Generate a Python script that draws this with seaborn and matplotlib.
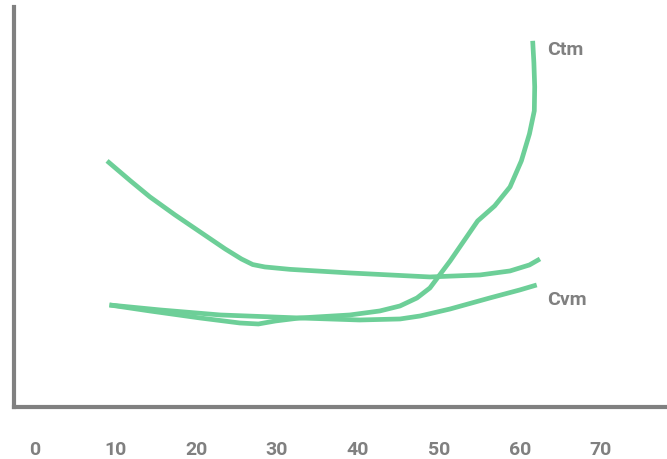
import numpy as np
import pandas as pd
import matplotlib
matplotlib.use("Agg")
import matplotlib.pyplot as plt
import seaborn as sns

sns.set_theme(style="white")
plt.rcParams["font.family"] = ["Roboto", "DejaVu Sans"]

GREEN = "#6dcf98"
GREY = "#808080"

# upper curve (no label)
upper_x = [9.0, 11.9, 14.3, 17.4, 20.5, 23.6, 25.6, 27.0, 28.5, 31.6, 39.0, 48.9, 55.1, 58.8, 61.2, 62.5]
upper_y = [61.5, 56.5, 52.5, 48.0, 43.75, 39.5, 37.0, 35.6, 35.0, 34.4, 33.5, 32.5, 33.0, 34.0, 35.5, 37.0]

# Ctm
ctm_x = [9.3, 14.3, 20.5, 25.4, 27.7, 29.8, 32.8, 39.0, 42.7, 45.2, 47.3, 48.9, 51.4, 54.8,
         56.9, 58.8, 60.2, 61.2, 61.8, 61.85, 61.75, 61.6]
ctm_y = [25.5, 24.0, 22.25, 21.0, 20.75, 21.5, 22.25, 23.0, 24.0, 25.25, 27.25, 29.75, 36.5, 46.5,
         50.25, 55.0, 61.5, 68.25, 74.0, 80.0, 86.0, 91.5]

# Cvm
cvm_x = [9.3, 15.6, 23.0, 32.8, 40.2, 45.2, 47.7, 51.4, 56.3, 60.0, 62.1]
cvm_y = [25.5, 24.25, 23.0, 22.25, 21.75, 22.0, 22.75, 24.5, 27.25, 29.25, 30.5]

xticks = [0, 10, 20, 30, 40, 50, 60, 70]

fig = plt.figure(figsize=(6.67, 4.6), dpi=100)
ax = fig.add_axes([0.021, 0.113, 0.979, 0.87])

for xs, ys in [(upper_x, upper_y), (ctm_x, ctm_y), (cvm_x, cvm_y)]:
    d = pd.DataFrame({"x": xs, "y": ys})
    sns.lineplot(data=d, x="x", y="y", sort=False, color=GREEN, linewidth=3.4,
                 solid_capstyle="butt", solid_joinstyle="round", ax=ax)

ax.text(65.6, 89.5, "Ctm", color=GREY, fontsize=14, fontweight="bold", ha="center", va="center")
ax.text(65.8, 27.0, "Cvm", color=GREY, fontsize=14, fontweight="bold", ha="center", va="center")

ax.set_xlim(-2.5, 78.2)
ax.set_ylim(0, 100)
ax.set_xticks(xticks)
ax.set_xticklabels([str(t) for t in xticks], color=GREY, fontsize=14, fontweight="bold")
ax.set_yticks([])
ax.tick_params(axis="x", length=0, pad=24)
ax.set_xlabel("")
ax.set_ylabel("")

for s in ["top", "right"]:
    ax.spines[s].set_visible(False)
for s in ["left", "bottom"]:
    ax.spines[s].set_color(GREY)
    ax.spines[s].set_linewidth(3)

fig.savefig("out.png", dpi=100)
